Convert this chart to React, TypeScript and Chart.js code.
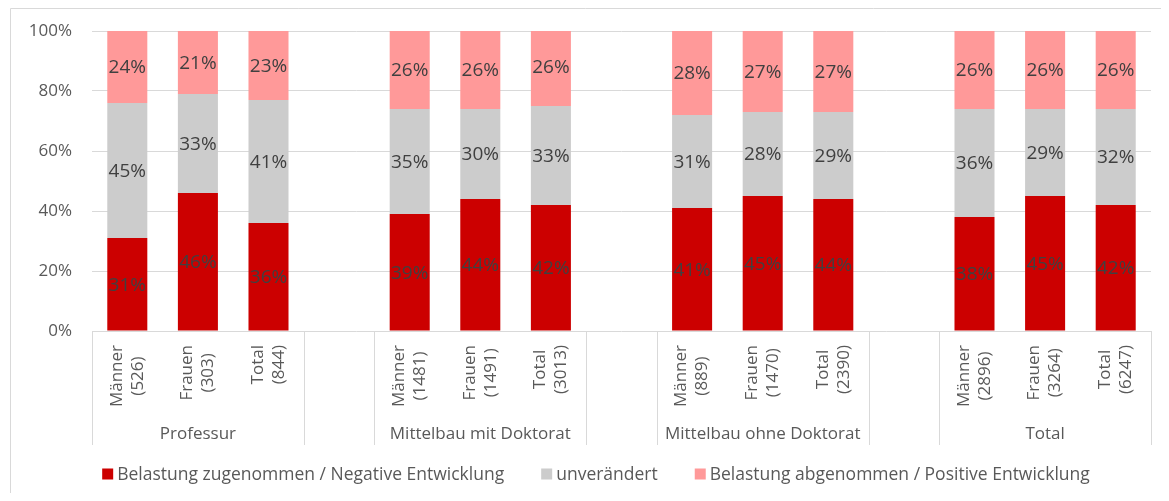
import React, { useEffect, useRef } from "react";
import { Chart, registerables } from "chart.js";

Chart.register(...registerables);

// Category slots: three bars per group, one empty slot between groups
const barLabels: string[][] = [
  ["Männer", "(526)"], ["Frauen", "(303)"], ["Total", "(844)"], [],
  ["Männer", "(1481)"], ["Frauen", "(1491)"], ["Total", "(3013)"], [],
  ["Männer", "(889)"], ["Frauen", "(1470)"], ["Total", "(2390)"], [],
  ["Männer", "(2896)"], ["Frauen", "(3264)"], ["Total", "(6247)"],
];

const groupNames = ["Professur", "Mittelbau mit Doktorat", "Mittelbau ohne Doktorat", "Total"];
const groupStarts = [0, 4, 8, 12];
const groupSize = 3;

const seriesNames = [
  "Belastung zugenommen / Negative Entwicklung",
  "unverändert",
  "Belastung abgenommen / Positive Entwicklung",
];

const negative = [31, 46, 36, null, 39, 44, 42, null, 41, 45, 44, null, 38, 45, 42];
const unchanged = [45, 33, 41, null, 35, 30, 33, null, 31, 28, 29, null, 36, 29, 32];
const positive = [24, 21, 23, null, 26, 26, 26, null, 28, 27, 27, null, 26, 26, 26];

const yTicks = [0, 20, 40, 60, 80, 100];

const FONT = "'Open Sans', 'Noto Sans', sans-serif";
const TEXT = "#595959";
const LABEL = "#404040";
const LINE = "#d9d9d9";
const COLORS = ["#cc0000", "#cccccc", "#ff9999"];

const framePlugin = {
  id: "frame",
  beforeDraw(chart: any) {
    const { ctx, width, height } = chart;
    ctx.save();
    ctx.strokeStyle = LINE;
    ctx.lineWidth = 1;
    ctx.beginPath();
    ctx.moveTo(2.5, height);
    ctx.lineTo(2.5, 0.5);
    ctx.lineTo(width, 0.5);
    ctx.stroke();
    ctx.restore();
  },
};

const valueLabelPlugin = {
  id: "valueLabels",
  afterDatasetsDraw(chart: any) {
    const { ctx } = chart;
    ctx.save();
    ctx.font = `19px ${FONT}`;
    ctx.fillStyle = LABEL;
    ctx.textAlign = "center";
    ctx.textBaseline = "middle";
    chart.data.datasets.forEach((ds: any, i: number) => {
      const meta = chart.getDatasetMeta(i);
      meta.data.forEach((el: any, j: number) => {
        const v = ds.data[j];
        if (v === null || v === undefined) return;
        const p = el.getCenterPoint();
        ctx.fillText(`${v}%`, p.x, p.y + 1);
      });
    });
    ctx.restore();
  },
};

const categoryAxisPlugin = {
  id: "categoryAxis",
  afterDraw(chart: any) {
    const { ctx, chartArea } = chart;
    const x = chart.scales.x;
    const n = barLabels.length;
    const slotEdge = (k: number) => {
      if (k <= 0) return chartArea.left;
      if (k >= n) return chartArea.right;
      return (x.getPixelForValue(k - 1) + x.getPixelForValue(k)) / 2;
    };
    const axisY = chartArea.bottom;
    const lineBottom = axisY + 114;

    ctx.save();
    ctx.strokeStyle = LINE;
    ctx.lineWidth = 1;
    const edges = new Set<number>();
    groupStarts.forEach((s) => {
      edges.add(s);
      edges.add(s + groupSize);
    });
    ctx.beginPath();
    edges.forEach((k) => {
      const px = Math.round(slotEdge(k)) + 0.5;
      ctx.moveTo(px, axisY);
      ctx.lineTo(px, lineBottom);
    });
    ctx.stroke();

    // rotated two-line bar labels
    ctx.font = `17px ${FONT}`;
    ctx.fillStyle = TEXT;
    ctx.textAlign = "center";
    ctx.textBaseline = "middle";
    const lineGap = 21;
    barLabels.forEach((lines, i) => {
      if (!lines.length) return;
      const cx = x.getPixelForValue(i);
      const maxW = Math.max(...lines.map((l) => ctx.measureText(l).width));
      ctx.save();
      ctx.translate(cx, axisY + 14 + maxW / 2);
      ctx.rotate(-Math.PI / 2);
      lines.forEach((l, li) => {
        ctx.fillText(l, 0, (li - (lines.length - 1) / 2) * lineGap);
      });
      ctx.restore();
    });

    // group names
    groupNames.forEach((g, gi) => {
      const s = groupStarts[gi];
      const cx = (slotEdge(s) + slotEdge(s + groupSize)) / 2;
      ctx.fillText(g, cx, axisY + 103);
    });

    // legend
    ctx.font = `17.5px ${FONT}`;
    const box = 11;
    const boxGap = 4;
    const itemGap = 37;
    const widths = seriesNames.map((s) => ctx.measureText(s).width);
    const total = widths.reduce((a, w) => a + box + boxGap + w, 0) + itemGap * (seriesNames.length - 1);
    let lx = 588 - total / 2;
    const ly = axisY + 143;
    ctx.textAlign = "left";
    seriesNames.forEach((s, i) => {
      ctx.fillStyle = COLORS[i];
      ctx.fillRect(lx, ly - box / 2, box, box);
      ctx.fillStyle = TEXT;
      ctx.fillText(s, lx + box + boxGap, ly + 1);
      lx += box + boxGap + widths[i] + itemGap;
    });
    ctx.restore();
  },
};

export default function App() {
  const canvasRef = useRef<HTMLCanvasElement>(null);

  useEffect(() => {
    if (!canvasRef.current) return;
    Chart.defaults.font.family = FONT;
    const series = [negative, unchanged, positive];
    const chart = new Chart(canvasRef.current, {
      type: "bar",
      data: {
        labels: barLabels.map((l) => l.join(" ")),
        datasets: series.map((d, i) => ({
          label: seriesNames[i],
          data: d,
          backgroundColor: COLORS[i],
          borderWidth: 0,
          barPercentage: 0.567,
          categoryPercentage: 1,
        })),
      },
      options: {
        animation: false,
        responsive: true,
        maintainAspectRatio: false,
        layout: { padding: { top: 23, right: 10, bottom: 162, left: 0 } },
        plugins: {
          legend: { display: false },
          tooltip: { enabled: false },
        },
        scales: {
          x: {
            stacked: true,
            display: false,
          },
          y: {
            stacked: true,
            min: 0,
            max: 100,
            afterBuildTicks: (scale: any) => {
              scale.ticks = yTicks.map((v) => ({ value: v }));
            },
            afterFit: (scale: any) => {
              scale.width = 84;
              scale.paddingTop = 0;
              scale.paddingBottom = 0;
            },
            border: { display: false },
            grid: { color: LINE, lineWidth: 1, drawTicks: false },
            ticks: {
              padding: 20,
              color: TEXT,
              font: { size: 17, family: FONT },
              callback: (v: any) => `${v}%`,
            },
          },
        },
      },
      plugins: [framePlugin, valueLabelPlugin, categoryAxisPlugin],
    });
    return () => chart.destroy();
  }, []);

  return (
    <div style={{ position: "relative", width: 1153, height: 485 }}>
      <canvas ref={canvasRef} />
    </div>
  );
}
